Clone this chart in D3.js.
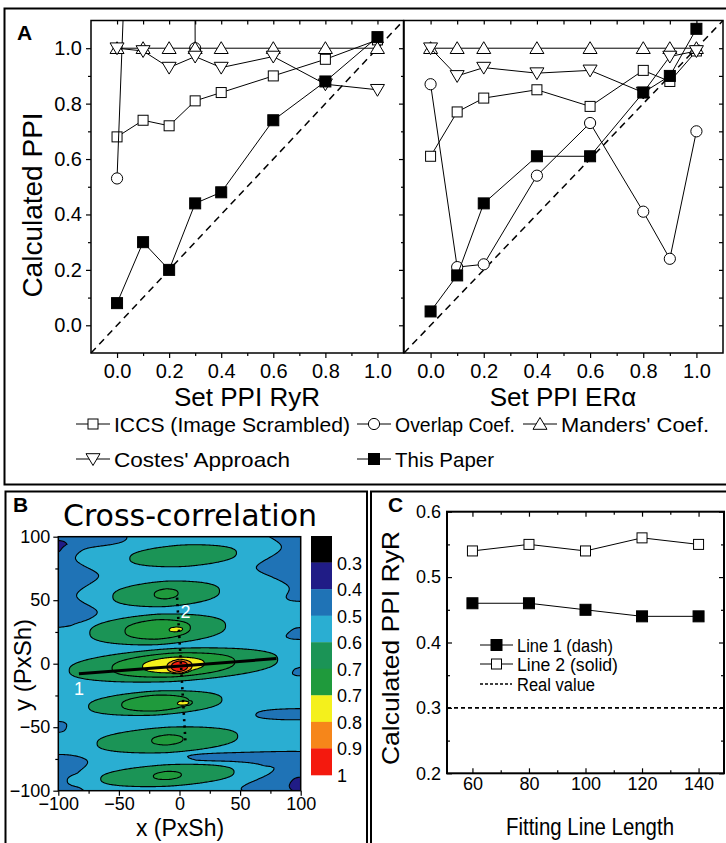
<!DOCTYPE html>
<html><head><meta charset="utf-8">
<script src="https://cdn.jsdelivr.net/npm/d3@7"></script>
<style>body{margin:0;background:#fff}svg{display:block}</style>
</head><body><svg id="c" width="726" height="843"></svg>
<script>
// ---------------- DATA ----------------
// Panel A (left): Set PPI RyR
const xRyR = [0.0, 0.1, 0.2, 0.3, 0.4, 0.6, 0.8, 1.0];
const ryrICCS = [0.68, 0.74, 0.72, 0.81, 0.84, 0.90, 0.96, 1.03];
const ryrOverlap = [0.53, 3.0, 30, 1.0, null, null, null, null];
const ryrManders = [1.0, 1.0, 1.0, 1.0, 1.0, 1.0, 1.0, 1.0];
const ryrCostes = [1.0, 0.99, 0.93, 0.97, 0.93, 0.97, 0.87, 0.85];
const ryrThisPaper = [0.08, 0.30, 0.20, 0.44, 0.48, 0.74, 0.88, 1.04];
// Panel A (right): Set PPI ERα
const xERa = [0.0, 0.1, 0.2, 0.4, 0.6, 0.8, 0.9, 1.0];
const eraICCS = [0.61, 0.77, 0.82, 0.85, 0.79, 0.92, 0.88, 0.99];
const eraOverlap = [0.87, 0.21, 0.22, 0.54, 0.73, 0.41, 0.24, 0.70];
const eraManders = [1.0, 1.0, 1.0, 1.0, 1.0, 1.0, 1.0, 1.0];
const eraCostes = [1.0, 0.90, 0.93, 0.91, 0.92, 0.84, 0.97, 0.99];
const eraThisPaper = [0.05, 0.18, 0.44, 0.61, 0.61, 0.84, 0.90, 1.07];
const seriesNames = ["ICCS (Image Scrambled)", "Overlap Coef.", "Manders' Coef.", "Costes' Approach", "This Paper"];
const seriesSymbols = ["square", "circle", "triUp", "triDown", "filledSquare"];
const aMajorTicks = [0.0, 0.2, 0.4, 0.6, 0.8, 1.0];
const aMinorTicks = [0.1, 0.3, 0.5, 0.7, 0.9];

// Panel B: cross-correlation map, described by lobes
// [centre x, centre y, half-length x, half-height y, peak value]
const ccLobes = [
  [3, 85, 44, 8.5, 0.69],
  [-11, 55, 44, 10, 0.71],
  [-18, 27, 56, 12, 0.745],
  [-3, 27, 14, 3.4, 0.795],
  [-5, -1, 86, 13, 0.775],
  [0, -2, 16, 7, 1.0],
  [-20, -31, 55, 9.5, 0.75],
  [3, -31, 12, 3, 0.795],
  [-10, -60, 58, 10, 0.71],
  [-10, -88, 55, 8.5, 0.709]
];
const ccLobeShape = [1.6, 2.6]; // exponents along / across a lobe
// darker (blue) regions near the edges: [x, y, sx, sy, depth]
const ccDips = [
  [-100, 64, 20, 36, 0.12],
  [-75, 100, 20, 6, 0.10],
  [-100, -8, 5, 5, 0.08],
  [-100, -50, 5, 4, 0.08],
  [-100, -92, 16, 18, 0.12],
  [100, 80, 22, 24, 0.12],
  [100, 25, 10, 5, 0.08],
  [100, -5, 6, 4, 0.07],
  [100, -40, 25, 4, 0.09],
  [100, -90, 30, 16, 0.12],
  [55, -75, 35, 4, 0.08]
];
// darkest (navy) spots: [x, y, sx, sy, depth]
const ccSpots = [
  [-100, 90, 4, 5, 0.06],
  [100, -95, 6, 6, 0.06]
];
const ccBackground = [0.56, 0.03, 29, 0.05, 0.41]; // level, ripple, ripple period, tilt, floor
const ccLevels = [0.3, 0.4, 0.5, 0.6, 0.7, 0.75, 0.8, 0.9];
const ccColors = ["#201c86", "#1f73b6", "#2aaed2", "#1b9456", "#1f9a3c", "#f4f01c", "#f6861a", "#f4190e"];
const cbColors = ["#000000", "#201c86", "#1f73b6", "#2aaed2", "#1b9456", "#1f9a3c", "#f4f01c", "#f6861a", "#f4190e"];
const cbLabels = ["0.3", "0.4", "0.5", "0.6", "0.7", "0.7", "0.8", "0.9", "1"];
const bTicks = [-100, -50, 0, 50, 100];
const bMinor = [-75, -25, 25, 75];
const line1Ends = [[-83, -8], [80, 4]];
const line2Ends = [[-2, 52], [5, -63]];

// Panel C
const cLength = [60, 80, 100, 120, 140];
const cLine1 = [0.46, 0.46, 0.45, 0.44, 0.44];
const cLine2 = [0.54, 0.55, 0.54, 0.56, 0.55];
const cReal = 0.3;
const cXTicks = [60, 80, 100, 120, 140];
const cXMinor = [70, 90, 110, 130];
const cYTicks = [0.2, 0.3, 0.4, 0.5, 0.6];
const cYMinor = [0.25, 0.35, 0.45, 0.55];
const cLegend = ["Line 1 (dash)", "Line 2 (solid)", "Real value"];

// ---------------- DRAWING ----------------
const FONT = "'Liberation Sans', Arial, Helvetica, sans-serif";
const svg = d3.select('#c');
const defs = svg.append('defs');

function sym(g, type, cx, cy) {
  if (type === 'square' || type === 'filledSquare') {
    const s = type === 'square' ? 10 : 11;
    g.append('rect').attr('x', cx - s / 2).attr('y', cy - s / 2).attr('width', s).attr('height', s)
      .attr('fill', type === 'square' ? '#fff' : '#000').attr('stroke', '#000').attr('stroke-width', 1);
  } else if (type === 'circle') {
    g.append('circle').attr('cx', cx).attr('cy', cy).attr('r', 5.6).attr('fill', '#fff').attr('stroke', '#000').attr('stroke-width', 1);
  } else if (type === 'triUp') {
    g.append('path').attr('d', `M${cx - 7},${cy + 5.3}L${cx + 7},${cy + 5.3}L${cx},${cy - 6.5}Z`).attr('fill', '#fff').attr('stroke', '#000').attr('stroke-width', 1);
  } else if (type === 'triDown') {
    g.append('path').attr('d', `M${cx - 7},${cy - 5.3}L${cx + 7},${cy - 5.3}L${cx},${cy + 6.5}Z`).attr('fill', '#fff').attr('stroke', '#000').attr('stroke-width', 1);
  }
}
function styleAxis(g, size) {
  g.select('.domain').remove();
  g.selectAll('line').attr('stroke', '#000').attr('stroke-width', 1.2);
  g.selectAll('text').attr('font-family', FONT).attr('font-size', size).attr('fill', '#000');
}
function txt(x, y, s, size, opts = {}) {
  const t = svg.append('text').attr('x', x).attr('y', y).text(s).attr('font-family', opts.family || FONT)
    .attr('font-size', size).attr('fill', opts.fill || '#000').attr('text-anchor', opts.anchor || 'start');
  if (opts.bold) t.attr('font-weight', 'bold');
  if (opts.rotate) t.attr('transform', `rotate(-90,${x},${y})`);
  if (opts.len) t.attr('textLength', opts.len).attr('lengthAdjust', 'spacingAndGlyphs');
  return t;
}

// Frames
svg.append('rect').attr('x', 4.5).attr('y', 8.5).attr('width', 740).attr('height', 476).attr('fill', 'none').attr('stroke', '#000').attr('stroke-width', 2);
svg.append('rect').attr('x', 5.5).attr('y', 491.5).attr('width', 361.5).attr('height', 370).attr('fill', 'none').attr('stroke', '#000').attr('stroke-width', 2);
svg.append('rect').attr('x', 371).attr('y', 491.5).attr('width', 370).attr('height', 370).attr('fill', 'none').attr('stroke', '#000').attr('stroke-width', 2);

// ---- Panel A ----
const aY = d3.scaleLinear().domain([-0.1, 1.1]).range([353, 20.5]);
function plotA(id, xr, xVals, series, showYLabels, rightAxis) {
  const xs = d3.scaleLinear().domain([-0.1, 1.1]).range(xr);
  defs.append('clipPath').attr('id', id).append('rect').attr('x', xr[0]).attr('y', aY(1.1)).attr('width', xr[1] - xr[0]).attr('height', aY(-0.1) - aY(1.1));
  const g = svg.append('g');
  g.append('line').attr('x1', xs(-0.1)).attr('y1', aY(-0.1)).attr('x2', xs(1.1)).attr('y2', aY(1.1))
    .attr('stroke', '#000').attr('stroke-width', 1.5).attr('stroke-dasharray', '7,5');
  series.forEach((s, k) => {
    const pts = xVals.map((xv, i) => ({ x: xv, v: s[i] }));
    g.append('path').attr('clip-path', `url(#${id})`)
      .attr('d', d3.line().defined(d => d.v != null).x(d => xs(d.x)).y(d => aY(d.v))(pts))
      .attr('fill', 'none').attr('stroke', '#000').attr('stroke-width', 1);
    pts.filter(d => d.v != null && d.v <= 1.1).forEach(d => sym(g, seriesSymbols[k], xs(d.x), aY(d.v)));
  });
  const fmt = d3.format('.1f');
  styleAxis(svg.append('g').attr('transform', `translate(0,${aY(-0.1)})`)
    .call(d3.axisBottom(xs).tickValues(aMajorTicks).tickSize(5).tickPadding(6).tickFormat(fmt)), 20);
  styleAxis(svg.append('g').attr('transform', `translate(0,${aY(-0.1)})`)
    .call(d3.axisBottom(xs).tickValues(aMinorTicks).tickSize(3).tickFormat('')), 20);
  styleAxis(svg.append('g').attr('transform', `translate(${xr[0]},0)`)
    .call(d3.axisLeft(aY).tickValues(aMajorTicks).tickSize(5).tickPadding(4).tickFormat(showYLabels ? fmt : '')), 20);
  styleAxis(svg.append('g').attr('transform', `translate(${xr[0]},0)`)
    .call(d3.axisLeft(aY).tickValues(aMinorTicks).tickSize(3).tickFormat('')), 20);
  styleAxis(svg.append('g').attr('transform', `translate(0,${aY(1.1)})`)
    .call(d3.axisTop(xs).tickValues(aMajorTicks.concat(aMinorTicks)).tickSize(-4).tickFormat('')), 20);
  if (rightAxis) styleAxis(svg.append('g').attr('transform', `translate(${xr[1]},0)`)
    .call(d3.axisRight(aY).tickValues(aMajorTicks.concat(aMinorTicks)).tickSize(-4).tickFormat('')), 20);
  svg.append('rect').attr('x', xr[0]).attr('y', aY(1.1)).attr('width', xr[1] - xr[0]).attr('height', aY(-0.1) - aY(1.1))
    .attr('fill', 'none').attr('stroke', '#000').attr('stroke-width', 1.5);
}
plotA('clipL', [91, 403.5], xRyR, [ryrICCS, ryrOverlap, ryrManders, ryrCostes, ryrThisPaper], true, false);
plotA('clipR', [404, 723], xERa, [eraICCS, eraOverlap, eraManders, eraCostes, eraThisPaper], false, true);
txt(17, 40, 'A', 21, { bold: true });
txt(42, 205, 'Calculated PPI', 28, { anchor: 'middle', rotate: true });
txt(247, 406, 'Set PPI RyR', 26, { anchor: 'middle' });
txt(563, 406, 'Set PPI ERα', 26, { anchor: 'middle' });

// Legend A
const legPos = [[76, 424], [357, 424], [523, 424], [76, 459], [357, 459]];
const legLen = [236, 120, 148, 176, 99];
seriesNames.forEach((name, k) => {
  const [lx, ly] = legPos[k];
  svg.append('line').attr('x1', lx).attr('x2', lx + 34).attr('y1', ly).attr('y2', ly).attr('stroke', '#000').attr('stroke-width', 1);
  sym(svg, seriesSymbols[k], lx + 17, ly);
  txt(lx + 38, ly + 7.5, name, 21, { len: legLen[k] });
});

// ---- Panel B ----
const bx = d3.scaleLinear().domain([-100, 100]).range([58.3, 300.7]);
const by = d3.scaleLinear().domain([-100, 100]).range([790.7, 536.7]);
function bump(x, y, [cx, cy, sx, sy, dep]) {
  return dep * Math.exp(-0.5 * (((x - cx) / sx) ** 2 + ((y - cy) / sy) ** 4));
}
function field(x, y) {
  const [lvl, rip, per, tilt, floor] = ccBackground;
  const [pa, pc] = ccLobeShape;
  let v = lvl + rip * Math.cos(2 * Math.PI * (y - tilt * x) / per);
  ccDips.forEach(d => { v -= bump(x, y, d); });
  v = Math.max(v, floor);
  ccSpots.forEach(d => { v -= bump(x, y, d); });
  ccLobes.forEach(([cx, cy, ax, ay, pk]) => {
    const u = x - cx, w = (y - cy) - tilt * u;
    const f = pk - (pk - 0.6) * (Math.abs(u / ax) ** pa + Math.abs(w / ay) ** pc);
    if (f > v) v = f;
  });
  return v;
}
const N = 201;
const vals = new Array(N * N);
for (let j = 0; j < N; j++) {
  const yv = 100 - j * 200 / (N - 1);
  for (let i = 0; i < N; i++) vals[j * N + i] = field(-100 + i * 200 / (N - 1), yv);
}
const conts = d3.contours().size([N, N]).thresholds(ccLevels)(vals);
const proj = d3.geoTransform({
  point(px, py) {
    const xv = -100 + (px - 0.5) * 200 / (N - 1), yv = 100 - (py - 0.5) * 200 / (N - 1);
    this.stream.point(bx(xv), by(yv));
  }
});
const gp = d3.geoPath(proj);
defs.append('clipPath').attr('id', 'clipB').append('rect').attr('x', bx(-100)).attr('y', by(100)).attr('width', bx(100) - bx(-100)).attr('height', by(-100) - by(100));
const gB = svg.append('g').attr('clip-path', 'url(#clipB)');
conts.forEach((c, k) => {
  gB.append('path').attr('d', gp(c)).attr('fill', ccColors[k]).attr('stroke', k === 0 ? 'none' : '#000').attr('stroke-width', 1.1);
});
gB.append('line').attr('x1', bx(line1Ends[0][0])).attr('y1', by(line1Ends[0][1])).attr('x2', bx(line1Ends[1][0])).attr('y2', by(line1Ends[1][1]))
  .attr('stroke', '#000').attr('stroke-width', 3);
gB.append('line').attr('x1', bx(line2Ends[0][0])).attr('y1', by(line2Ends[0][1])).attr('x2', bx(line2Ends[1][0])).attr('y2', by(line2Ends[1][1]))
  .attr('stroke', '#000').attr('stroke-width', 2.6).attr('stroke-dasharray', '2.2,4.2');
txt(bx(-83), by(-25), '1', 18, { fill: '#fff', anchor: 'middle' });
txt(bx(5), by(36), '2', 18, { fill: '#fff', anchor: 'middle' });
svg.append('rect').attr('x', bx(-100)).attr('y', by(100)).attr('width', bx(100) - bx(-100)).attr('height', by(-100) - by(100))
  .attr('fill', 'none').attr('stroke', '#000').attr('stroke-width', 1.5);
styleAxis(svg.append('g').attr('transform', `translate(0,${by(-100)})`).call(d3.axisBottom(bx).tickValues(bTicks).tickSize(5).tickPadding(2)), 18);
styleAxis(svg.append('g').attr('transform', `translate(0,${by(-100)})`).call(d3.axisBottom(bx).tickValues(bMinor).tickSize(3).tickFormat('')), 18);
styleAxis(svg.append('g').attr('transform', `translate(${bx(-100)},0)`).call(d3.axisLeft(by).tickValues(bTicks).tickSize(5).tickPadding(3)), 18);
styleAxis(svg.append('g').attr('transform', `translate(${bx(-100)},0)`).call(d3.axisLeft(by).tickValues(bMinor).tickSize(3).tickFormat('')), 18);
txt(13, 512, 'B', 21, { bold: true });
txt(190, 526, 'Cross-correlation', 30, { anchor: 'middle', family: "'DejaVu Sans', Verdana, sans-serif" });
txt(180, 836, 'x (PxSh)', 23, { anchor: 'middle' });
txt(31, 665, 'y (PxSh)', 24, { anchor: 'middle', rotate: true });
// colour bar
const cbY = d3.scaleLinear().domain([0, cbColors.length]).range([536, 775]);
cbColors.forEach((c, i) => {
  svg.append('rect').attr('x', 311).attr('y', cbY(i)).attr('width', 21).attr('height', cbY(i + 1) - cbY(i) + 0.3).attr('fill', c);
});
cbLabels.forEach((l, i) => txt(337, cbY(i + 1) + 7, l, 18));

// ---- Panel C ----
const cx = d3.scaleLinear().domain([51, 149]).range([447, 724]);
const cy = d3.scaleLinear().domain([0.2, 0.6]).range([773.3, 511.7]);
const gC = svg.append('g');
gC.append('line').attr('x1', cx(51)).attr('x2', cx(149)).attr('y1', cy(cReal)).attr('y2', cy(cReal))
  .attr('stroke', '#000').attr('stroke-width', 1.6).attr('stroke-dasharray', '4,3');
[[cLine1, 'filledSquare'], [cLine2, 'square']].forEach(([s, t]) => {
  const pts = cLength.map((l, i) => [cx(l), cy(s[i])]);
  gC.append('path').attr('d', d3.line()(pts)).attr('fill', 'none').attr('stroke', '#000').attr('stroke-width', 1);
  pts.forEach(p => sym(gC, t, p[0], p[1]));
});
const cf = d3.format('.1f');
styleAxis(svg.append('g').attr('transform', `translate(0,${cy(0.2)})`).call(d3.axisBottom(cx).tickValues(cXTicks).tickSize(-5).tickPadding(4)), 18);
styleAxis(svg.append('g').attr('transform', `translate(0,${cy(0.2)})`).call(d3.axisBottom(cx).tickValues(cXMinor).tickSize(-3).tickFormat('')), 18);
styleAxis(svg.append('g').attr('transform', `translate(0,${cy(0.6)})`).call(d3.axisTop(cx).tickValues(cXTicks).tickSize(-5).tickFormat('')), 18);
styleAxis(svg.append('g').attr('transform', `translate(0,${cy(0.6)})`).call(d3.axisTop(cx).tickValues(cXMinor).tickSize(-3).tickFormat('')), 18);
styleAxis(svg.append('g').attr('transform', `translate(${cx(51)},0)`).call(d3.axisLeft(cy).tickValues(cYTicks).tickSize(-5).tickPadding(6).tickFormat(cf)), 18);
styleAxis(svg.append('g').attr('transform', `translate(${cx(51)},0)`).call(d3.axisLeft(cy).tickValues(cYMinor).tickSize(-3).tickFormat('')), 18);
styleAxis(svg.append('g').attr('transform', `translate(${cx(149)},0)`).call(d3.axisRight(cy).tickValues(cYTicks).tickSize(-5).tickFormat('')), 18);
styleAxis(svg.append('g').attr('transform', `translate(${cx(149)},0)`).call(d3.axisRight(cy).tickValues(cYMinor).tickSize(-3).tickFormat('')), 18);
svg.append('rect').attr('x', cx(51)).attr('y', cy(0.6)).attr('width', cx(149) - cx(51)).attr('height', cy(0.2) - cy(0.6))
  .attr('fill', 'none').attr('stroke', '#000').attr('stroke-width', 2);
txt(388, 512, 'C', 21, { bold: true });
txt(399, 648, 'Calculated PPI RyR', 24, { anchor: 'middle', rotate: true, len: 234 });
txt(590, 835, 'Fitting Line Length', 23, { anchor: 'middle', len: 168 });
const cLegY = [645, 664, 684];
const cLegLen = [96, 101, 78];
cLegend.forEach((l, i) => {
  const ly = cLegY[i];
  if (i < 2) {
    svg.append('line').attr('x1', 480).attr('x2', 513).attr('y1', ly).attr('y2', ly).attr('stroke', '#000').attr('stroke-width', 1);
    sym(svg, i === 0 ? 'filledSquare' : 'square', 496.5, ly);
  } else {
    svg.append('line').attr('x1', 480).attr('x2', 512).attr('y1', ly).attr('y2', ly).attr('stroke', '#000').attr('stroke-width', 1.5).attr('stroke-dasharray', '3,2');
  }
  txt(517, ly + 6.5, l, 18, { len: cLegLen[i] });
});
</script>
</body></html>
